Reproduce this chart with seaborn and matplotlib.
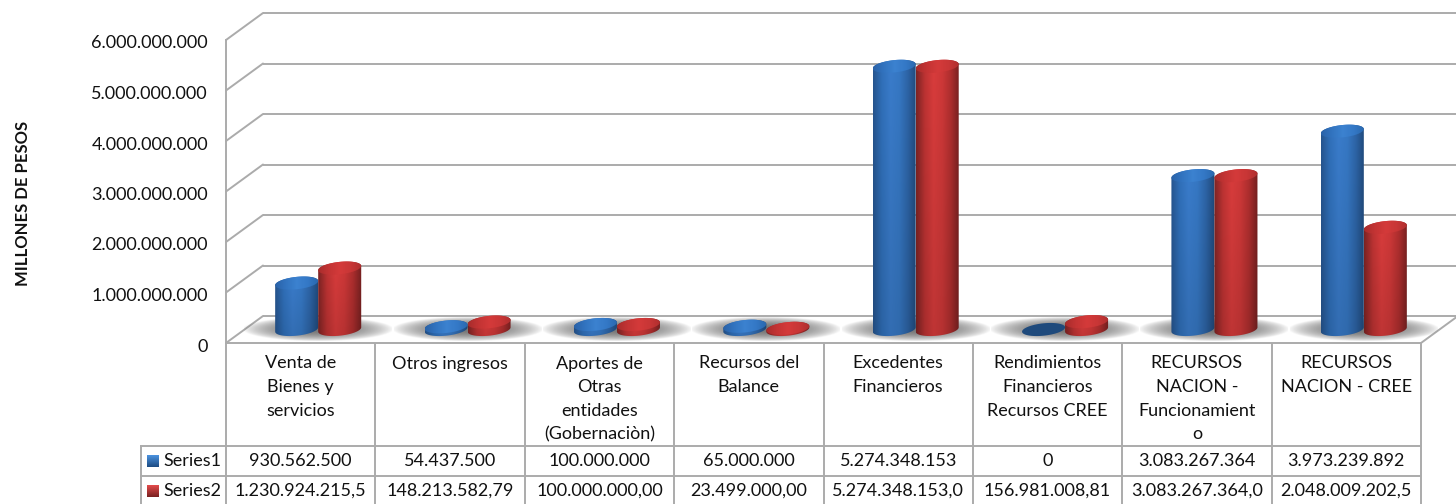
import numpy as np
import pandas as pd
import matplotlib
matplotlib.use("Agg")
import matplotlib.pyplot as plt
import seaborn as sns
from matplotlib.path import Path
from matplotlib.patches import PathPatch
from matplotlib.transforms import ScaledTranslation

categorias = ["Venta de\nBienes y\nservicios", "Otros ingresos", "Aportes de\nOtras\nentidades\n(Gobernaciòn)",
              "Recursos del\nBalance", "Excedentes\nFinancieros", "Rendimientos\nFinancieros\nRecursos CREE",
              "RECURSOS\nNACION -\nFuncionamient\no", "RECURSOS\nNACION - CREE"]
series1 = [930562500, 54437500, 100000000, 65000000, 5274348153, 0, 3083267364, 3973239892]
series2 = [1230924215.5, 148213582.79, 100000000, 23499000, 5274348153, 156981008.81, 3083267364, 2048009202.5]
tabla1 = ["930.562.500", "54.437.500", "100.000.000", "65.000.000", "5.274.348.153", "0",
          "3.083.267.364", "3.973.239.892"]
tabla2 = ["1.230.924.215,5", "148.213.582,79", "100.000.000,00", "23.499.000,00", "5.274.348.153,0",
          "156.981.008,81", "3.083.267.364,0", "2.048.009.202,5"]
yticks = [0, 1000000000, 2000000000, 3000000000, 4000000000, 5000000000, 6000000000]
ytick_labels = ["0", "1.000.000.000", "2.000.000.000", "3.000.000.000", "4.000.000.000",
                "5.000.000.000", "6.000.000.000"]

sns.set_theme(style="white")
plt.rcParams["font.family"] = ["Lato", "DejaVu Sans"]

W, H = 1456, 504
L, R, Y0, Y6 = 226, 1421, 343, 40  # plano frontal en px
GRIS = "#ABABAB"
FS = 13

fig = plt.figure(figsize=(W / 100, H / 100), dpi=100, facecolor="white")


def caja(x0, x1, y0, y1):
    return [x0 / W, 1 - y0 / H, (x1 - x0) / W, (y0 - y1) / H]


# tabla y textos, en px
ov = fig.add_axes([0, 0, 1, 1], zorder=1)
ov.set_xlim(0, W)
ov.set_ylim(H, 0)
ov.set_autoscale_on(False)
ov.axis("off")

# plano frontal: eje y, paredes
ax = fig.add_axes(caja(L, R, Y0, Y6), zorder=2)
ax.patch.set_alpha(0)
ax.set_xlim(-0.5, 7.5)
ax.set_ylim(0, 6e9)
ax.set_xticks([])
ax.set_yticks(yticks, labels=ytick_labels, fontsize=FS, color="#111111")
ax.tick_params(axis="y", length=0, pad=13)
baja = ScaledTranslation(0, -2 / 100, fig.dpi_scale_trans)
for lab in ax.get_yticklabels():
    lab.set_transform(lab.get_transform() + baja)
sns.despine(ax=ax, top=True, right=True)
for s in ["left", "bottom"]:
    ax.spines[s].set_color(GRIS)
    ax.spines[s].set_linewidth(1.4)

ppx = 8 / (R - L)  # unidades x por px
vpx = 6e9 / (Y0 - Y6)  # unidades y por px
dx, dy = 37 * ppx, 27 * vpx
for v in yticks:
    ax.plot([-0.5, -0.5 + dx], [v, v + dy], color=GRIS, lw=1.4, clip_on=False)
ax.hlines([v + dy for v in yticks], -0.5 + dx, 7.5 + dx, color=GRIS, lw=1.4, clip_on=False)
ax.plot([7.5, 7.5 + dx], [0, dy], color=GRIS, lw=1.4, clip_on=False)

# barras: plano medio
datos = pd.DataFrame({
    "categoria": categorias * 2,
    "valor": series1 + series2,
    "serie": ["Series1"] * 8 + ["Series2"] * 8,
})
Y0B, Y6B = 329.5, 329.5 - 299.4
ax_b = fig.add_axes(caja(L + 17.5, R + 17.5, Y0B, Y6B), zorder=3)
sns.barplot(data=datos, x="categoria", y="valor", hue="serie", ax=ax_b, width=0.576, errorbar=None,
            legend=False, palette=["#2F6DB5", "#C23232"])
ax_b.set_xlim(-0.5, 7.5)
ax_b.set_ylim(0, 6e9)
ax_b.axis("off")
ax_b.set_autoscale_on(False)
vb = 6e9 / (Y0B - Y6B)

# sombras
gx, gy = np.meshgrid(np.linspace(-1, 1, 120), np.linspace(-1, 1, 60))
alfa = np.clip(1.05 - (gx ** 2 + gy ** 2) ** 0.9, 0, 1) ** 0.8 * 0.85
som = np.dstack([np.full(gx.shape, 0.38)] * 3 + [alfa])
for i in range(len(categorias)):
    im = ax_b.imshow(som, extent=[i - 74 * ppx, i + 74 * ppx, -12 * vb, 12 * vb], aspect="auto", zorder=1,
                     interpolation="bilinear")
    im.set_clip_box(fig.bbox)

rampas = [
    ["#26558F", "#3070BA", "#3A7CCB", "#3678C4", "#2D64A6", "#20497A"],
    ["#7E2424", "#BE3333", "#D93C3C", "#CE3838", "#AE2E2E", "#752020"],
]
rampas_tapa = [
    ["#2A62A8", "#3274C0", "#3C82D0", "#3478C6", "#2A68AE"],
    ["#A82C2C", "#C43434", "#D43A3A", "#C83636", "#AE2E2E"],
]


def rampa(hexes, m=80):
    rgb = np.array([matplotlib.colors.to_rgb(h) for h in hexes])
    xs = np.linspace(0, 1, len(hexes))
    return np.column_stack([np.interp(np.linspace(0, 1, m), xs, rgb[:, c]) for c in range(3)])


def elipse(t, xc, yc, a=21.5, b=6.2, s=0.1):
    xp = a * np.cos(t)
    return xc + xp * ppx, yc + (b * np.sin(t) + s * xp) * vb


for k, cont in enumerate(ax_b.containers):
    cuerpo = rampa(rampas[k])
    tapa = rampa(rampas_tapa[k])
    for p in cont.patches:
        xc = p.get_x() + p.get_width() / 2
        alto = p.get_height()
        a = p.get_width() / 2 / ppx
        p.set_facecolor("none")
        p.set_edgecolor("none")
        z = 5 + k
        t1 = np.linspace(np.pi, 2 * np.pi, 40)
        t2 = np.linspace(0, np.pi, 40)
        xa, ya = elipse(t1, xc, 0, a=a)
        xb, yb = elipse(t2, xc, alto, a=a)
        verts = np.column_stack([np.r_[xa, xb], np.r_[ya, yb]])
        ext = [xc - a * ppx, xc + a * ppx, -10 * vb, alto + 10 * vb]
        if alto > 0:
            sombreado = np.linspace(0.88, 1.0, 40)[:, None, None]
            img = cuerpo[None, :, :] * sombreado
            im = ax_b.imshow(np.clip(img, 0, 1), extent=ext, origin="lower", aspect="auto", zorder=z)
            im.set_clip_box(fig.bbox)
            im.set_clip_path(PathPatch(Path(verts), transform=ax_b.transData))
        tt = np.linspace(0, 2 * np.pi, 80)
        xe, ye = elipse(tt, xc, alto, a=a)
        ext2 = [xc - a * ppx, xc + a * ppx, alto - 10 * vb, alto + 10 * vb]
        color_tapa = tapa[None, :, :] if alto > 0 else np.array([[matplotlib.colors.to_rgb("#1F4A7C")]])
        im2 = ax_b.imshow(color_tapa, extent=ext2, origin="lower", aspect="auto", zorder=z + 0.5)
        im2.set_clip_box(fig.bbox)
        im2.set_clip_path(PathPatch(Path(np.column_stack([xe, ye])), transform=ax_b.transData))

# tabla
cw = (R - L) / 8
ov.vlines([L + cw * i for i in range(9)], Y0, H, color=GRIS, lw=1.4)
ov.vlines(140.5, 445.5, H, color=GRIS, lw=1.4)
ov.hlines([445.5, 476], 140, R, color=GRIS, lw=1.4)
for i in range(8):
    xc = L + cw * (i + 0.5)
    ov.text(xc, 355.5, categorias[i], ha="center", va="top", fontsize=FS, color="#111111", linespacing=1.58)
    ov.text(xc, 461.5, tabla1[i], ha="center", va="center", fontsize=FS, color="#111111")
    ov.text(xc, 491, tabla2[i], ha="center", va="center", fontsize=FS, color="#111111")
ov.text(163, 461.5, "Series1", ha="left", va="center", fontsize=FS, color="#111111")
ov.text(163, 491, "Series2", ha="left", va="center", fontsize=FS, color="#111111")
for y, arriba, abajo in [(455, "#4A90DC", "#1F4E86"), (485, "#E04A4A", "#7C2222")]:
    grad = rampa([arriba, abajo], 12)[:, None, :]
    ov.imshow(grad, extent=[147, 159, y + 12, y], aspect="auto", origin="upper", zorder=4)
ov.text(23, 203, "MILLONES DE PESOS", rotation=90, ha="center", va="center", fontsize=12,
        fontweight="bold", color="#111111")

fig.savefig("out.png", dpi=100)
